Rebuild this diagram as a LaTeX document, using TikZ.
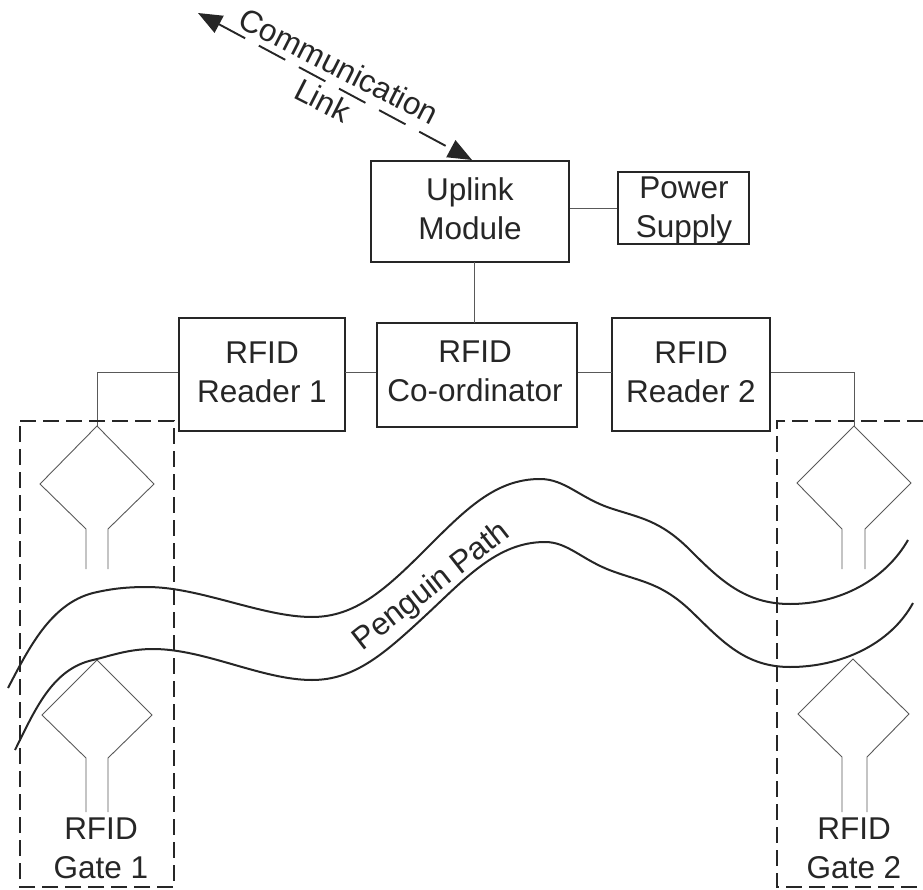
\documentclass[tikz,border=0pt]{standalone}
\usepackage{fontspec}
\setmainfont{Liberation Sans}
\usetikzlibrary{arrows.meta}
\definecolor{ink}{gray}{0.15}
\tikzset{
  box/.style={draw=ink,line width=2.4pt,inner sep=0pt},
  txt/.style={inner sep=0pt,align=center,text=ink,font=\fontsize{31.5}{39}\selectfont},
  thinline/.style={draw=black!65,line width=0.9pt},
  gatebox/.style={draw=ink,line width=2.2pt,dash pattern=on 16pt off 7pt},
  pathline/.style={draw=ink,line width=2pt},
  linkline/.style={draw=ink,line width=1.9pt,dash pattern=on 30pt off 15.5pt,{Triangle[length=24pt,width=19pt]}-{Triangle[length=24pt,width=19pt]}}
}
\begin{document}
\begin{tikzpicture}[x=1pt,y=-1pt]
\useasboundingbox (0,0) rectangle (923,890);
% boxes
\node[box,minimum width=198pt,minimum height=101pt] (uplink) at (470,211.5) {};
\node[txt] (uplinkt) at (470,209) {Uplink\\Module};
\node[box,line width=2pt,minimum width=131pt,minimum height=72pt] (power) at (683.5,208) {};
\node[txt] (powert) at (684,210) {Power\\Supply};
\node[box,minimum width=166pt,minimum height=113pt] (rone) at (262,374.5) {};
\node[txt] (ronet) at (262,372) {RFID\\Reader 1};
\node[box,minimum width=200pt,minimum height=104pt] (coord) at (477,375) {};
\node[txt] (coordt) at (475,371) {RFID\\Co-ordinator};
\node[box,minimum width=158pt,minimum height=113pt] (rtwo) at (691,374.5) {};
\node[txt] (rtwot) at (691,372) {RFID\\Reader 2};
% antenna feed points
\coordinate (aone) at (97,426);
\coordinate (atwo) at (854,426);
\coordinate (rolink) at (345,372);
\coordinate (rtlink) at (612,372);
% connectors
\draw[thinline] (uplink.east |- power.west) -- (power.west);
\draw[thinline] (474,262) -- (474,323);
\draw[thinline] (rolink) -- (coord.west |- rolink);
\draw[thinline] (coord.east |- rtlink) -- (rtlink);
\draw[thinline] (rone.west |- 0,372) -- (97,372) -- (aone);
\draw[thinline] (rtwo.east |- 0,372) -- (854,372) -- (atwo);
% gates
\draw[gatebox] (20,421) -- (174,421) -- (174,887) -- (20,887) -- cycle;
\draw[gatebox] (923,421) -- (777,421) -- (777,887) -- (923,887);
% antennas
\draw[thinline] (86,569) -- (86,529) -- (40,484) -- (aone) -- (154,484) -- (108,529) -- (108,569);
\draw[thinline] (86,812) -- (86,758) -- (42,715) -- (97,660) -- (152,715) -- (108,758) -- (108,812);
\draw[thinline] (842,569) -- (842,529) -- (797,483) -- (atwo) -- (911,483) -- (865,529) -- (865,569);
\draw[thinline] (842,812) -- (842,757) -- (798,714) -- (853,659) -- (909,714) -- (867,757) -- (867,812);
% penguin path
\draw[pathline] (8,688) .. controls (28,650) and (50,604) .. (93,593)
  .. controls (110,589) and (125,587) .. (147,587)
  .. controls (200,587) and (262,617) .. (312,617)
  .. controls (355,617) and (385,590) .. (425,550)
  .. controls (465,510) and (495,479) .. (540,479)
  .. controls (565,479) and (580,498) .. (610,508)
  .. controls (640,518) and (660,520) .. (690,550)
  .. controls (720,580) and (745,604) .. (790,604)
  .. controls (840,604) and (885,580) .. (908,540);
\draw[pathline] (15,750) .. controls (35,710) and (52,669) .. (93,660)
  .. controls (110,656) and (128,649) .. (153,649)
  .. controls (205,649) and (262,680) .. (312,680)
  .. controls (355,680) and (385,653) .. (425,616)
  .. controls (465,579) and (497,542) .. (545,542)
  .. controls (568,542) and (582,560) .. (612,571)
  .. controls (642,582) and (662,583) .. (692,612)
  .. controls (722,641) and (745,667) .. (790,667)
  .. controls (840,667) and (890,645) .. (913,603);
\node[txt,rotate=38] (pp) at (432,587) {Penguin Path};
% communication link
\coordinate (clone) at (198,13);
\coordinate (cltwo) at (472,160);
\draw[linkline] (clone) -- (cltwo);
\node[txt,rotate=-27] (cone) at (339,66) {Communication};
\node[txt,rotate=-27] (ctwo) at (323,100) {Link};
% gate labels
\node[txt] (gone) at (101,848) {RFID\\Gate 1};
\node[txt] (gtwo) at (854,848) {RFID\\Gate 2};
\end{tikzpicture}
\end{document}
